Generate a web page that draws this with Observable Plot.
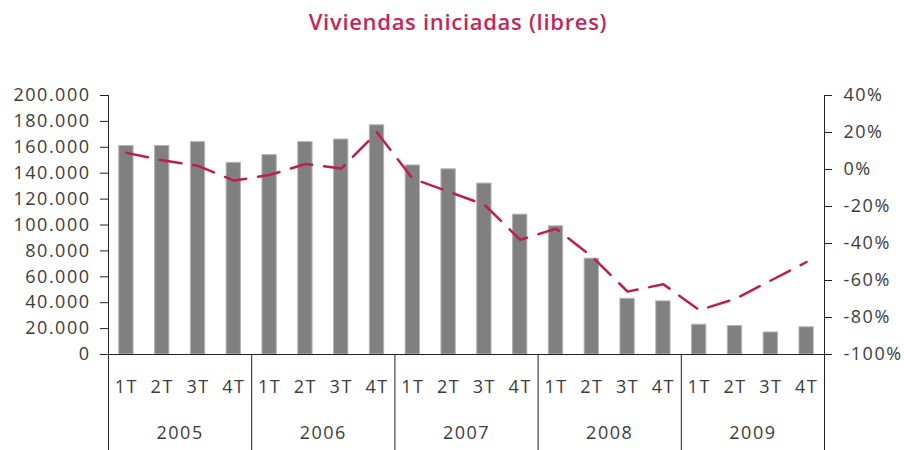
<!DOCTYPE html>
<html><head><meta charset="utf-8">
<script src="https://cdn.jsdelivr.net/npm/d3@7"></script>
<script src="https://cdn.jsdelivr.net/npm/@observablehq/plot@0.6"></script>
<style>
body{margin:0;background:#fff;}
#title{height:48px;text-align:center;padding-left:12px;font:600 22px "Open Sans";line-height:43px;letter-spacing:0.7px;color:#C0285A;box-sizing:border-box;overflow:visible;}
</style></head><body>
<div id="title">Viviendas iniciadas (libres)</div>
<div id="chart"></div>
<script>
const years = ["2005","2006","2007","2008","2009"];
const quarters = ["1T","2T","3T","4T"];
// Viviendas iniciadas (unidades)
const viviendas = [161000,161000,164000,148000, 154000,164000,166000,177000, 146000,143000,132000,108000, 99000,74000,43000,41000, 23000,22000,17000,21000];
// Variación interanual (%)
const variacion = [9,5,2,-6, -3,3,0.5,20, -5,-12,-19,-38, -32,-47,-66,-62, -76,-70,-60,-50];
const leftTicks = [0,20000,40000,60000,80000,100000,120000,140000,160000,180000,200000];
const rightTicks = [-100,-80,-60,-40,-20,0,20,40];

const leftMax = 200000, rMin = -100, rMax = 40;
const toLeft = p => (p - rMin) / (rMax - rMin) * leftMax;
const fromLeft = v => Math.round(v / leftMax * (rMax - rMin) + rMin);

const rows = [];
years.forEach((y, yi) => quarters.forEach((q, qi) => {
  const i = yi * 4 + qi;
  rows.push({key: y + "-" + q, year: y, quarter: q, viviendas: viviendas[i], variacion: variacion[i]});
}));
const keys = rows.map(d => d.key);

const W = 904, H = 402, mL = 108, mR = 80, mT = 47, mB = 96;
const step = (W - mL - mR) / keys.length;

const chart = Plot.plot({
  width: W, height: H, marginTop: mT, marginBottom: mB, marginLeft: mL, marginRight: mR,
  style: {fontFamily: "Open Sans", fontSize: "18px", color: "#3c3c3c", background: "white", letterSpacing: "1.5px"},
  x: {type: "band", domain: keys, paddingInner: 0.6, paddingOuter: 0.3, round: false, axis: null},
  y: {domain: [0, leftMax], axis: null},
  marks: [
    Plot.barY(rows, {x: "key", y: "viviendas", fill: "#808080", stroke: "#b4b4b4", strokeWidth: 1}),
    Plot.line(rows, {x: "key", y: d => toLeft(d.variacion), stroke: "#BE1E4E", strokeWidth: 2.5, strokeDasharray: "22,12"}),
    Plot.ruleY([0], {stroke: "#222"}),
    Plot.ruleX([keys[0]], {x: d => d, dx: -step / 2, stroke: "#222", insetBottom: -mB}),
    Plot.ruleX([keys[keys.length - 1]], {x: d => d, dx: step / 2, stroke: "#222", insetBottom: -mB}),
    Plot.ruleX(years.slice(1), {x: d => d + "-1T", dx: -step / 2, y1: 0, y2: 0, stroke: "#222", insetBottom: -mB}),
    Plot.axisY({anchor: "left", label: null, ticks: leftTicks, tickSize: 8, tickPadding: 10, stroke: "#222",
      tickFormat: d => d3.format(",")(d).replace(/,/g, ".")}),
    Plot.axisY({anchor: "right", label: null, ticks: rightTicks.map(toLeft), tickSize: 7, tickPadding: 12, stroke: "#222",
      tickFormat: v => fromLeft(v) + "%"}),
    Plot.text(rows, {x: "key", text: "quarter", frameAnchor: "bottom", dy: 38}),
    Plot.text(years, {x: d => d + "-2T", text: d => d, frameAnchor: "bottom", dx: step / 2, dy: 84})
  ]
});
document.getElementById("chart").appendChild(chart);
</script>
</body></html>
